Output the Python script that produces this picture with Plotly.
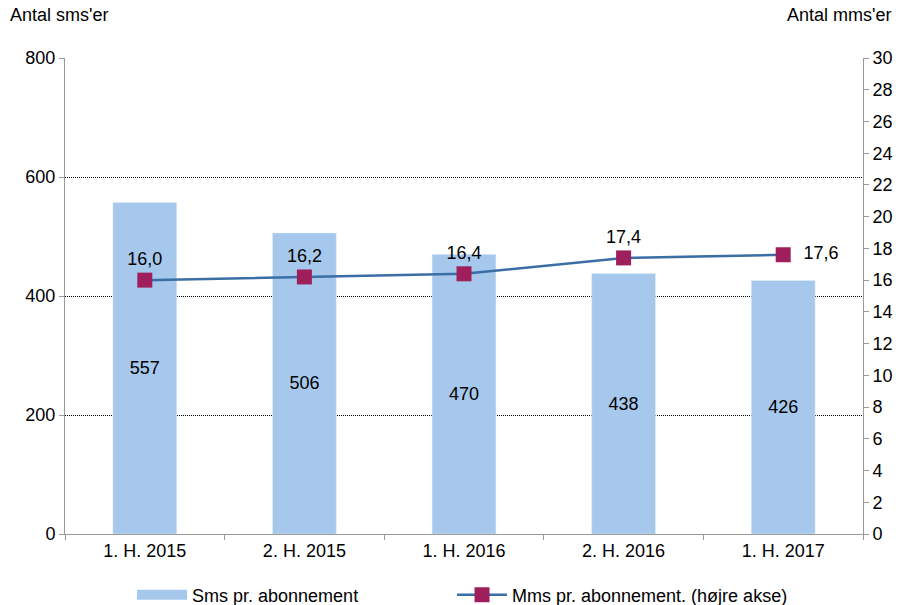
import plotly.graph_objects as go

perioder = ["1. H. 2015", "2. H. 2015", "1. H. 2016", "2. H. 2016", "1. H. 2017"]
sms = [557, 506, 470, 438, 426]
mms = [16.0, 16.2, 16.4, 17.4, 17.6]

mms_txt = [f"{v:.1f}".replace(".", ",") for v in mms]
mms_pos = ["top center", "top center", "top center", "top center", "middle right"]

font = dict(family="Liberation Sans, Arial, sans-serif", size=18, color="black")
bar_color = "#A6C8EC"

fig = go.Figure()

fig.add_trace(go.Bar(
    x=perioder, y=sms,
    text=[str(v) for v in sms],
    textposition="inside", insidetextanchor="middle",
    textfont=font,
    marker_color=bar_color,
    width=0.4,
    name="Sms pr. abonnement",
    showlegend=False,
))

# kun til forklaringen: bred, flad firkant som i Excel
fig.add_trace(go.Scatter(
    x=[None], y=[None], mode="lines",
    line=dict(color=bar_color, width=12),
    name="Sms pr. abonnement",
    legend="legend",
))

fig.add_trace(go.Scatter(
    x=perioder, y=mms,
    yaxis="y2",
    mode="lines+markers+text",
    text=["  " + t if p == "middle right" else t for t, p in zip(mms_txt, mms_pos)],
    textposition=mms_pos,
    textfont=font,
    line=dict(color="#3A6EA5", width=2.5),
    marker=dict(symbol="square", size=15, color="#9E1F5C"),
    name="Mms pr. abonnement. (højre akse)",
    legend="legend2",
))

leg = dict(orientation="h", y=-0.128, yanchor="middle", xanchor="left",
           font=font, itemwidth=50, bgcolor="rgba(0,0,0,0)")

fig.update_layout(
    width=902, height=605,
    margin=dict(l=65, r=39, t=58, b=71, autoexpand=False),
    paper_bgcolor="white", plot_bgcolor="white",
    font=font,
    showlegend=True,
    legend=dict(leg, x=0.084),
    legend2=dict(leg, x=0.485),
    xaxis=dict(
        type="category", tickson="boundaries", ticks="outside", ticklen=5,
        tickcolor="#999999", showline=True, linecolor="#999999", linewidth=1,
        showgrid=False, tickfont=font, automargin=False,
    ),
    yaxis=dict(
        range=[0, 800], dtick=200, ticks="outside", ticklen=5, tickcolor="#999999",
        showline=True, linecolor="#999999", linewidth=1,
        showgrid=True, gridcolor="black", griddash="1px,1px", gridwidth=1,
        zeroline=False, tickfont=font, automargin=False,
    ),
    yaxis2=dict(
        range=[0, 30], dtick=2, overlaying="y", side="right",
        ticks="outside", ticklen=5, tickcolor="#999999",
        showline=True, linecolor="#999999", linewidth=1,
        showgrid=False, zeroline=False, tickfont=font, automargin=False,
    ),
    annotations=[
        dict(text="Antal sms'er", xref="paper", yref="paper", x=-0.072, y=1.065,
             xanchor="left", yanchor="bottom", showarrow=False, font=font),
        dict(text="Antal mms'er", xref="paper", yref="paper", x=1.037, y=1.065,
             xanchor="right", yanchor="bottom", showarrow=False, font=font),
    ],
)

# siden har 8px body-margin som standard; fjern den så figuren starter i 0,0
fig.write_html("out.html", config={"displayModeBar": False},
               post_script="document.body.style.margin='0';")
